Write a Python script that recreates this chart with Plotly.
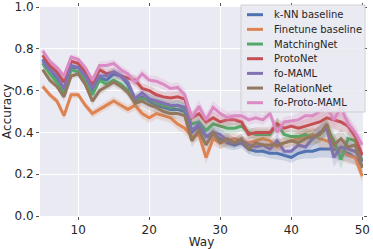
import plotly.graph_objects as go

way = list(range(5, 51))

knn = [0.75,0.70,0.66,0.60,0.71,0.71,0.67,0.59,0.66,0.65,
       0.68,0.67,0.63,0.55,0.57,0.55,0.53,0.52,0.51,0.51,
       0.50,0.40,0.43,0.38,0.39,0.37,0.35,0.34,0.35,0.32,
       0.31,0.31,0.30,0.30,0.29,0.28,0.30,0.31,0.31,0.32,
       0.32,0.32,0.31,0.30,0.28,0.24]
finetune = [0.62,0.58,0.55,0.48,0.58,0.58,0.53,0.49,0.51,0.53,
            0.55,0.53,0.51,0.53,0.49,0.47,0.49,0.48,0.47,0.44,
            0.42,0.38,0.39,0.28,0.37,0.35,0.36,0.37,0.36,0.35,
            0.36,0.37,0.36,0.33,0.35,0.36,0.37,0.38,0.39,0.37,
            0.36,0.34,0.31,0.29,0.28,0.19]
matching = [0.73,0.68,0.64,0.59,0.70,0.69,0.65,0.58,0.65,0.63,
            0.65,0.63,0.60,0.56,0.56,0.56,0.54,0.53,0.52,0.53,
            0.51,0.44,0.45,0.41,0.44,0.43,0.42,0.42,0.43,0.40,
            0.39,0.39,0.39,0.44,0.39,0.38,0.38,0.39,0.37,0.39,
            0.42,0.36,0.27,0.37,0.36,0.26]
proto = [0.77,0.72,0.69,0.64,0.74,0.73,0.69,0.63,0.70,0.68,
         0.69,0.67,0.66,0.65,0.61,0.60,0.58,0.57,0.565,0.57,
         0.56,0.47,0.49,0.45,0.47,0.45,0.46,0.46,0.45,0.39,
         0.40,0.40,0.40,0.44,0.42,0.43,0.42,0.43,0.44,0.45,
         0.47,0.46,0.45,0.43,0.38,0.29]
fomaml = [0.74,0.70,0.67,0.61,0.72,0.71,0.67,0.61,0.67,0.67,
          0.69,0.67,0.64,0.56,0.59,0.56,0.55,0.54,0.53,0.53,
          0.52,0.41,0.44,0.38,0.40,0.39,0.36,0.35,0.36,0.34,
          0.33,0.34,0.32,0.36,0.31,0.31,0.34,0.33,0.37,0.40,
          0.42,0.28,0.33,0.32,0.31,0.26]
relation = [0.70,0.65,0.62,0.57,0.67,0.68,0.63,0.55,0.60,0.62,
            0.64,0.62,0.59,0.54,0.55,0.53,0.52,0.50,0.49,0.49,
            0.48,0.36,0.41,0.34,0.40,0.35,0.37,0.35,0.37,0.32,
            0.35,0.34,0.34,0.34,0.35,0.36,0.35,0.37,0.38,0.39,
            0.44,0.34,0.37,0.33,0.34,0.23]
fopm = [0.79,0.74,0.71,0.67,0.76,0.75,0.71,0.65,0.72,0.72,
        0.73,0.70,0.68,0.64,0.68,0.65,0.645,0.63,0.61,0.615,
        0.58,0.47,0.525,0.46,0.52,0.49,0.47,0.48,0.48,0.46,
        0.47,0.46,0.49,0.40,0.45,0.455,0.46,0.48,0.48,0.50,
        0.52,0.46,0.52,0.44,0.40,0.34]

# confidence band half-widths per way (shared)
ci = [0.015,0.015,0.015,0.02,0.015,0.015,0.015,0.02,0.02,0.02,
      0.02,0.02,0.02,0.025,0.025,0.025,0.025,0.025,0.025,0.025,
      0.03,0.03,0.03,0.03,0.03,0.03,0.03,0.025,0.025,0.025,
      0.025,0.025,0.025,0.03,0.025,0.025,0.03,0.035,0.035,0.04,
      0.04,0.045,0.045,0.04,0.035,0.03]

names = ["k-NN baseline", "Finetune baseline", "MatchingNet", "ProtoNet",
         "fo-MAML", "RelationNet", "fo-Proto-MAML"]
series = [knn, finetune, matching, proto, fomaml, relation, fopm]
colors = [(76,114,176), (221,132,82), (85,168,104), (196,78,82),
          (129,114,179), (147,120,96), (218,139,195)]

yticks = [0.0, 0.2, 0.4, 0.6, 0.8, 1.0]
xticks = [10, 20, 30, 40, 50]

W, H = 373, 249
L, R, T, B = 40, 10, 7, 33
pw, ph = W - L - R, H - T - B

fig = go.Figure()
for name, vals, c in zip(names, series, colors):
    up = [v + e for v, e in zip(vals, ci)]
    lo = [v - e for v, e in zip(vals, ci)]
    fig.add_trace(go.Scatter(
        x=way + way[::-1], y=up + lo[::-1], fill="toself",
        fillcolor="rgba(%d,%d,%d,0.2)" % c, line=dict(width=0),
        mode="lines", showlegend=False, hoverinfo="skip"))
    fig.add_trace(go.Scatter(
        x=way, y=vals, mode="lines", name=name,
        line=dict(color="rgb(%d,%d,%d)" % c, width=3), showlegend=False))

def px(xp):
    return (xp - L) / pw

def py(yp):
    return (H - B - yp) / ph

shapes = [dict(type="rect", xref="paper", yref="paper",
               x0=px(241), x1=px(365), y0=py(112), y1=py(5),
               fillcolor="rgba(234,234,242,0.85)",
               line=dict(color="rgba(204,204,204,0.9)", width=1))]
annotations = []
for i, (name, c) in enumerate(zip(names, colors)):
    yp = 14.7 + i * 14.67
    shapes.append(dict(type="line", xref="paper", yref="paper",
                       x0=px(247), x1=px(263), y0=py(yp), y1=py(yp),
                       line=dict(color="rgb(%d,%d,%d)" % c, width=3)))
    annotations.append(dict(xref="paper", yref="paper", x=px(272), y=py(yp),
                            text=name, showarrow=False, xanchor="left",
                            yanchor="middle",
                            font=dict(family="DejaVu Sans", size=10, color="#262626")))

fig.update_layout(
    width=W, height=H,
    margin=dict(l=L, r=R, t=T, b=B, autoexpand=False),
    paper_bgcolor="white", plot_bgcolor="#EAEAF2",
    font=dict(family="DejaVu Sans", size=12, color="#262626"),
    shapes=shapes, annotations=annotations, showlegend=False,
)
fig.update_xaxes(range=[4.62, 50.1], tickvals=xticks, ticktext=[str(t) for t in xticks],
                 showgrid=True, gridcolor="white", gridwidth=1, zeroline=False,
                 ticks="outside", ticklen=3, tickcolor="#555555", mirror="ticks",
                 showline=False, automargin=False,
                 title=dict(text="Way", font=dict(size=12), standoff=2))
fig.update_yaxes(range=[0, 1.0], tickvals=yticks, ticktext=["%.1f" % t for t in yticks],
                 showgrid=True, gridcolor="white", gridwidth=1, zeroline=False,
                 ticks="outside", ticklen=3, tickcolor="#555555", mirror="ticks",
                 showline=False, automargin=False,
                 title=dict(text="Accuracy", font=dict(size=12), standoff=4))

fig.write_html("out.html", config={"displayModeBar": False},
               post_script="document.body.style.margin='0';")
